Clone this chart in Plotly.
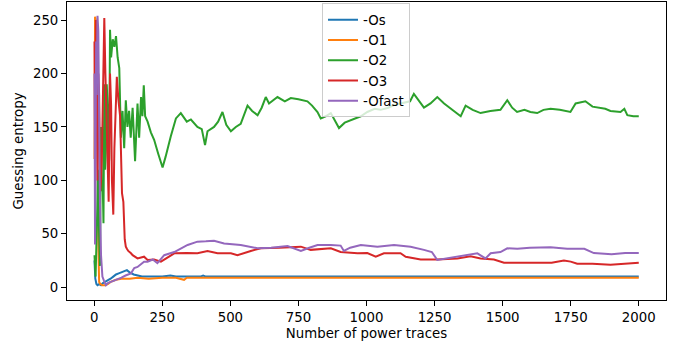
import plotly.graph_objects as go

# ---- data ----
os_x = [1, 4, 8, 12, 18, 25, 32, 40, 50, 60, 70, 80, 90, 100, 110, 120, 130, 145, 160, 175, 200, 250, 280, 300, 350, 390, 400, 410, 500, 750, 1000, 1500, 2000]
os_y = [25, 8, 3, 2, 3, 2, 4, 5, 6, 8, 10, 12, 13, 14, 15, 16, 14, 12, 11, 10, 10, 10, 11, 10, 10, 10, 11, 10, 10, 10, 10, 10, 10]

o1_x = [1, 3, 6, 9, 12, 15, 18, 22, 30, 40, 50, 60, 80, 100, 130, 160, 200, 250, 300, 330, 340, 360, 400, 500, 1000, 1500, 2000]
o1_y = [120, 253, 250, 200, 130, 40, 5, 3, 2, 2, 3, 5, 7, 8, 8, 9, 8, 9, 9, 7, 9, 9, 9, 9, 9, 9, 9]

o2_x = [1, 5, 10, 14, 17, 21, 25, 28, 31, 34, 37, 40, 43, 46, 49, 52, 55, 58, 62, 68, 74, 80, 86, 92, 98,
        104, 110, 116, 122, 128, 134, 141, 150, 159, 165, 172, 177, 182, 187, 196, 208, 220, 235, 251, 262,
        270, 281, 300, 318, 340, 355, 379, 395, 407, 416, 440, 455, 471, 485, 502, 520, 538, 563, 580, 600,
        615, 630, 642, 660, 673, 700, 722, 750, 783, 800, 820, 832, 850, 869, 885, 899, 920, 942, 979, 1003,
        1030, 1052, 1080, 1101, 1130, 1160, 1174, 1190, 1211, 1235, 1260, 1285, 1309, 1330, 1346, 1364, 1390,
        1419, 1455, 1492, 1517, 1535, 1553, 1580, 1602, 1627, 1650, 1676, 1710, 1749, 1768, 1804, 1830, 1877,
        1896, 1933, 1947, 1958, 1980, 2000]
o2_y = [30, 10, 60, 110, 60, 20, 150, 90, 100, 60, 190, 110, 130, 190, 170, 110, 120, 241, 215, 232, 225, 235, 215, 205, 140,
        165, 130, 175, 150, 165, 140, 168, 118, 172, 140, 178, 160, 189, 160, 155, 145, 138, 125, 112, 122,
        131, 141, 158, 163, 155, 157, 150, 148, 133, 146, 150, 155, 164, 152, 146, 150, 153, 170, 165, 161,
        168, 178, 172, 176, 178, 174, 177, 176, 174, 170, 164, 158, 160, 163, 156, 149, 154, 156, 160, 164,
        167, 166, 168, 170.5, 172, 174, 181, 175, 168, 172, 178, 172, 167, 163, 160, 170, 166,
        163, 165, 166, 175, 168, 164, 166, 164, 163, 166, 167, 166, 164, 172, 174, 169, 167,
        165, 164, 167, 161, 160, 160]

o3_x = [1, 3, 6, 9, 12, 15, 18, 22, 25, 28, 32, 37, 41, 45, 49, 53, 58, 62, 65, 70, 74, 77, 83, 89, 95,
        102, 107, 112, 116, 120, 125, 135, 141, 159, 183, 196, 220, 245, 257, 294, 340, 379, 416, 453, 502,
        526, 575, 612, 680, 759, 795, 869, 905, 967, 1003, 1034, 1064, 1101, 1125, 1144, 1199, 1260, 1334,
        1382, 1419, 1468, 1505, 1566, 1615, 1680, 1725, 1750, 1774, 1830, 1896, 1950, 2000]
o3_y = [230, 150, 250, 170, 100, 200, 180, 90, 100, 120, 200, 252, 200, 160, 120, 80, 200, 170, 100, 68, 130, 160, 197, 175, 160,
        88, 80, 45, 38, 36, 34, 31.8, 30, 27, 28.6, 25.5, 26, 24, 26, 31.8, 32, 31.8, 34, 31.8, 31.8,
        30, 34, 36.5, 37, 38, 35, 36.5, 33, 31.8, 32, 28.6, 31.8, 32, 31.8, 28.6, 26, 26, 27,
        29, 27, 26, 23, 23, 23, 23, 25, 24, 22, 22, 21, 22, 23]

ofast_x = [1, 3, 5, 7, 9, 12, 15, 18, 21, 25, 30, 36, 43, 50, 60, 70, 86, 100, 115, 135, 147, 159, 183, 196, 215,
           232, 257, 270, 294, 343, 379, 410, 440, 477, 538, 600, 650, 710, 759, 790, 820, 869, 905, 917, 940,
           979, 1040, 1101, 1162, 1211, 1240, 1260, 1297, 1334, 1370, 1407, 1437, 1456, 1492, 1517, 1554, 1600,
           1676, 1737, 1800, 1835, 1900, 1950, 2000]
ofast_y = [200, 40, 130, 230, 180, 254, 240, 150, 80, 30, 10, 6, 2, 4, 5, 6, 7, 9, 11, 13, 18, 19, 24, 24, 26,
           22.5, 30, 31, 33, 39.6, 42.7, 43, 43.6, 41, 39.6, 36.5, 37, 38.6, 34, 37, 39.6, 39.6, 39, 34, 37,
           39.6, 38, 39.6, 38, 35, 33, 25.5, 27, 28.6, 30, 31.8, 27, 31.8, 33, 36.5, 36, 37,
           37.5, 36, 36, 32, 31, 32, 32]

series_names = ["-Os", "-O1", "-O2", "-O3", "-Ofast"]
series_colors = ["#1f77b4", "#ff7f0e", "#2ca02c", "#d62728", "#9467bd"]
series_data = [(os_x, os_y), (o1_x, o1_y), (o2_x, o2_y), (o3_x, o3_y), (ofast_x, ofast_y)]

x_ticks = [0, 250, 500, 750, 1000, 1250, 1500, 1750, 2000]
y_ticks = [0, 50, 100, 150, 200, 250]

for xs, ys in series_data:
    assert len(xs) == len(ys), (len(xs), len(ys))

FONT = "DejaVu Sans"
FS = 13.3

fig = go.Figure()
for name, color, (xs, ys) in zip(series_names, series_colors, series_data):
    fig.add_trace(go.Scatter(x=xs, y=ys, mode="lines", name=name,
                             line=dict(color=color, width=2)))

axis_common = dict(showline=True, mirror=True, linecolor="black", linewidth=1,
                   ticks="outside", ticklen=5, tickwidth=1, tickcolor="black",
                   showgrid=False, zeroline=False,
                   tickfont=dict(family=FONT, size=FS, color="black"))

fig.update_layout(
    width=675, height=344,
    margin=dict(l=67, r=9, t=2, b=44),
    paper_bgcolor="white", plot_bgcolor="white",
    font=dict(family=FONT, size=FS, color="black"),
    xaxis=dict(range=[-100, 2100], tickvals=x_ticks,
               title=dict(text="Number of power traces", standoff=4,
                          font=dict(family=FONT, size=FS)),
               **axis_common),
    yaxis=dict(range=[-11.9, 266.9], tickvals=y_ticks,
               title=dict(text="Guessing entropy", standoff=6,
                          font=dict(family=FONT, size=FS)),
               **axis_common),
    legend=dict(x=0.4257, y=0.995, xanchor="left", yanchor="top",
                bgcolor="rgba(255,255,255,0.8)", bordercolor="#cccccc", borderwidth=1,
                font=dict(family=FONT, size=FS), itemwidth=30, tracegroupgap=0),
    showlegend=True,
)

fig.write_html("out.html", config={"displayModeBar": False},
               post_script="document.body.style.margin='0';document.body.style.overflow='hidden';")
